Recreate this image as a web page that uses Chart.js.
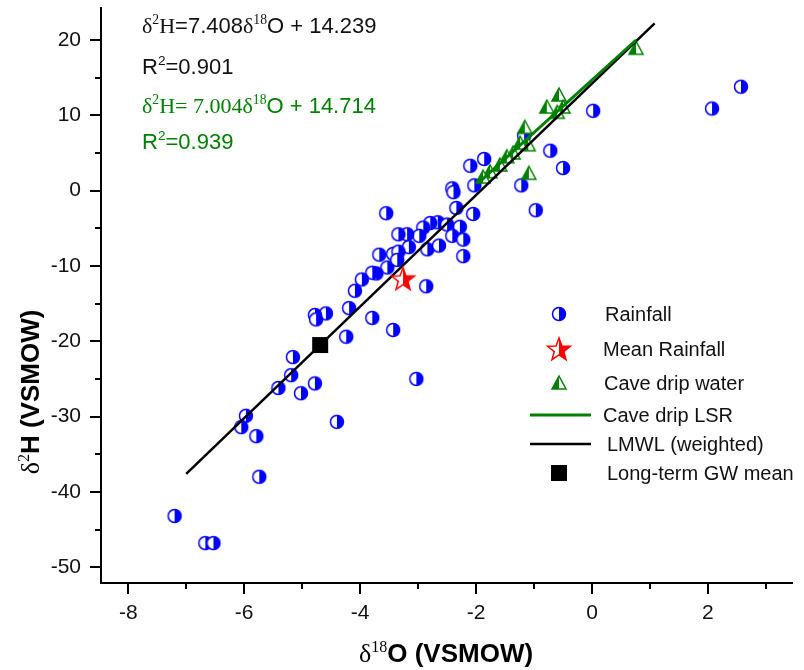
<!DOCTYPE html>
<html>
<head>
<meta charset="utf-8">
<script src="https://cdn.jsdelivr.net/npm/chart.js@4.4.0/dist/chart.umd.min.js"></script>
<style>
  body { margin: 0; background: #fff; }
  canvas { display: block; }
</style>
</head>
<body>
<canvas id="chartjs-0" width="804" height="670"></canvas>
<script>
/* Rainfall samples (d18O, d2H) */
var rainX = [2.57, 2.07, 0.02, -0.72, -0.5, -0.97, -1.17, -1.22, -1.86, -2.1, -2.03, -2.41, -2.39, -2.34, -2.05, -3.55,
  -2.28, -2.66, -2.79, -2.5, -2.91, -2.98, -3.19, -3.34, -2.41, -2.22, -3.16, -2.84, -2.64, -2.22, -3.67, -3.43,
  -3.34, -3.53, -3.36, -3.72, -3.79, -3.97, -4.09, -2.86, -4.19, -4.59, -4.78, -4.76, -3.79, -3.43, -4.24, -3.03,
  -4.78, -5.16, -5.19, -5.41, -5.02, -5.97, -6.05, -5.79, -4.4, -5.74, -7.2, -6.67, -6.53];
var rainY = [13.8, 10.9, 10.6, 5.3, 3.0, -2.6, 7.3, 0.7, 4.2, 3.3, 0.7, 0.3, -0.2, -2.3, -3.1, -3.0,
  -4.8, -4.2, -4.3, -4.5, -4.9, -6.0, -5.8, -5.8, -6.0, -6.5, -7.5, -7.8, -7.3, -8.7, -8.5, -8.4,
  -8.1, -10.2, -9.2, -11.0, -10.9, -11.8, -13.3, -12.7, -15.6, -16.3, -16.5, -17.1, -16.9, -18.5, -19.4, -25.0,
  -25.6, -22.1, -24.5, -26.2, -26.9, -29.9, -31.4, -32.6, -30.7, -38.0, -43.2, -46.8, -46.8];

/* Cave drip water */
var dripX = [0.76, -0.57, -0.78, -0.5, -0.6, -1.16, -1.1, -1.24, -1.09, -1.36, -1.47, -1.59, -1.76, -1.88];
var dripY = [18.9, 12.7, 11.1, 11.1, 10.4, 8.4, 6.1, 6.3, 2.3, 5.0, 4.5, 3.4, 2.5, 1.8];

/* single points */
var meanRainX = [-3.26], meanRainY = [-11.7];
var gwMeanX = [-4.69], gwMeanY = [-20.5];

/* regression line end points */
var lmwlX = [-7.0, 1.08], lmwlY = [-37.6, 22.2];
var lsrX = [-1.92, 0.76], lsrY = [1.3, 20.0];

var xTicks = [-8, -6, -4, -2, 0, 2];
var yTicks = [-50, -40, -30, -20, -10, 0, 10, 20];

var BLUE = "#0000ff", GREEN = "#008000", RED = "#ff0000";
var SANS = "'Liberation Sans', Arial, sans-serif";
var SERIF = "'Liberation Serif', 'Times New Roman', serif";

function pts(xs, ys) {
    var out = [];
    for (var i = 0; i < xs.length; i++) out.push({x: xs[i], y: ys[i]});
    return out;
}

/* marker images */
function halfCircle() {
    var c = document.createElement("canvas"); c.width = 18; c.height = 18;
    var g = c.getContext("2d");
    g.beginPath(); g.arc(9, 9, 6.5, 0, Math.PI * 2); g.fillStyle = "#fff"; g.fill();
    g.beginPath(); g.arc(9, 9, 6.5, -Math.PI / 2, Math.PI / 2); g.closePath(); g.fillStyle = BLUE; g.fill();
    g.beginPath(); g.arc(9, 9, 6.5, 0, Math.PI * 2); g.lineWidth = 1.5; g.strokeStyle = BLUE; g.stroke();
    return c;
}
function halfTriangle() {
    var c = document.createElement("canvas"); c.width = 18; c.height = 18;
    var g = c.getContext("2d");
    g.beginPath(); g.moveTo(9, 2); g.lineTo(2, 15); g.lineTo(16, 15); g.closePath();
    g.fillStyle = "#fff"; g.fill();
    g.beginPath(); g.moveTo(9, 2); g.lineTo(2, 15); g.lineTo(9, 15); g.closePath();
    g.fillStyle = GREEN; g.fill();
    g.beginPath(); g.moveTo(9, 2); g.lineTo(2, 15); g.lineTo(16, 15); g.closePath();
    g.lineWidth = 1.5; g.strokeStyle = GREEN; g.stroke();
    return c;
}
function starImg() {
    var c = document.createElement("canvas"); c.width = 28; c.height = 28;
    var g = c.getContext("2d");
    function path() {
        g.beginPath();
        for (var i = 0; i < 10; i++) {
            var r = i % 2 === 0 ? 12 : 5;
            var a = -Math.PI / 2 + i * Math.PI / 5;
            var px = 14 + r * Math.cos(a), py = 15 + r * Math.sin(a);
            if (i === 0) g.moveTo(px, py); else g.lineTo(px, py);
        }
        g.closePath();
    }
    path(); g.fillStyle = "#fff"; g.fill();
    g.save(); g.beginPath(); g.rect(14, 0, 14, 28); g.clip();
    path(); g.fillStyle = RED; g.fill(); g.restore();
    path(); g.lineWidth = 1.5; g.strokeStyle = RED; g.stroke();
    return c;
}
function squareImg() {
    var c = document.createElement("canvas"); c.width = 18; c.height = 18;
    var g = c.getContext("2d");
    g.fillStyle = "#000"; g.fillRect(1, 1, 16, 16);
    return c;
}
var imgCircle = halfCircle(), imgTri = halfTriangle(), imgStar = starImg(), imgSquare = squareImg();

/* text made of pieces with superscripts */
function richText(ctx, parts, x, y, size, color, bold) {
    ctx.fillStyle = color;
    ctx.textBaseline = "alphabetic";
    ctx.textAlign = "left";
    parts.forEach(function (p) {
        var s = p.sup ? size * 0.62 : size;
        var w = bold && !p.serif ? "bold " : "";
        ctx.font = w + s + "px " + (p.serif ? SERIF : SANS);
        ctx.fillText(p.t, x, p.sup ? y - size * 0.4 : y);
        x += ctx.measureText(p.t).width;
    });
}
function richWidth(ctx, parts, size, bold) {
    var w = 0;
    parts.forEach(function (p) {
        var s = p.sup ? size * 0.62 : size;
        ctx.font = (bold && !p.serif ? "bold " : "") + s + "px " + (p.serif ? SERIF : SANS);
        w += ctx.measureText(p.t).width;
    });
    return w;
}

var extras = {
    id: "extras",
    afterDraw: function (chart) {
        var ctx = chart.ctx, xs = chart.scales.x, ys = chart.scales.y;
        var area = chart.chartArea;
        ctx.save();
        /* tick marks, major and minor */
        ctx.strokeStyle = "#000"; ctx.lineWidth = 2;
        for (var v = -8; v <= 3; v++) {
            var px = Math.round(xs.getPixelForValue(v));
            var len = v % 2 === 0 ? 11 : 6;
            ctx.beginPath(); ctx.moveTo(px, area.bottom); ctx.lineTo(px, area.bottom + len); ctx.stroke();
        }
        for (var w = -50; w <= 20; w += 5) {
            var py = Math.round(ys.getPixelForValue(w));
            var l2 = w % 10 === 0 ? 11 : 6;
            ctx.beginPath(); ctx.moveTo(area.left, py); ctx.lineTo(area.left - l2, py); ctx.stroke();
        }

        /* equations */
        richText(ctx, [{t: "δ", serif: 1}, {t: "2", serif: 1, sup: 1}, {t: "H", serif: 1}, {t: "=7.408"},
            {t: "δ", serif: 1}, {t: "18", serif: 1, sup: 1}, {t: "O + 14.239"}], 142, 33, 22, "#111");
        richText(ctx, [{t: "R"}, {t: "2", sup: 1}, {t: "=0.901"}], 142, 74, 22, "#111");
        richText(ctx, [{t: "δ", serif: 1}, {t: "2", serif: 1, sup: 1}, {t: "H= 7.004δ", serif: 1},
            {t: "18", serif: 1, sup: 1}, {t: "O + 14.714"}], 142, 113, 22, GREEN);
        richText(ctx, [{t: "R"}, {t: "2", sup: 1}, {t: "=0.939"}], 142, 149, 22, GREEN);

        /* axis titles */
        var xt = [{t: "δ", serif: 1}, {t: "18", serif: 1, sup: 1}, {t: "O (VSMOW)"}];
        var xw = richWidth(ctx, xt, 26, true);
        richText(ctx, xt, 446 - xw / 2, 662, 26, "#000", true);
        var yt = [{t: "δ", serif: 1}, {t: "2", serif: 1, sup: 1}, {t: "H (VSMOW)"}];
        var yw = richWidth(ctx, yt, 26, true);
        ctx.save();
        ctx.translate(39, 392);
        ctx.rotate(-Math.PI / 2);
        richText(ctx, yt, -yw / 2, 0, 26, "#000", true);
        ctx.restore();

        /* legend */
        var rows = [
            {img: imgCircle, label: "Rainfall", y: 314, tx: 605},
            {img: imgStar, label: "Mean Rainfall", y: 349, tx: 603},
            {img: imgTri, label: "Cave drip water", y: 383, tx: 604},
            {line: GREEN, w: 3, label: "Cave drip LSR", y: 415, tx: 603},
            {line: "#000", w: 2.5, label: "LMWL (weighted)", y: 444, tx: 607},
            {img: imgSquare, label: "Long-term GW mean", y: 473, tx: 607}
        ];
        ctx.font = "20px " + SANS;
        ctx.textBaseline = "middle";
        rows.forEach(function (r) {
            if (r.img) {
                ctx.drawImage(r.img, 559 - r.img.width / 2, r.y - r.img.height / 2);
            } else {
                ctx.beginPath(); ctx.moveTo(530, r.y); ctx.lineTo(591, r.y);
                ctx.strokeStyle = r.line; ctx.lineWidth = r.w; ctx.stroke();
            }
            ctx.fillStyle = "#111";
            ctx.fillText(r.label, r.tx, r.y + 1);
        });
        ctx.restore();
    }
};

var ctx0 = document.getElementById("chartjs-0");
var myChart = new Chart(ctx0, {
    type: "scatter",
    data: {
        datasets: [{
            label: "Rainfall",
            data: pts(rainX, rainY),
            pointStyle: imgCircle,
            order: 6
        }, {
            label: "Cave drip water",
            data: pts(dripX, dripY),
            pointStyle: imgTri,
            order: 5
        }, {
            label: "LMWL (weighted)",
            data: pts(lmwlX, lmwlY),
            showLine: true,
            borderColor: "#000",
            borderWidth: 2.5,
            pointRadius: 0,
            order: 4
        }, {
            label: "Cave drip LSR",
            data: pts(lsrX, lsrY),
            showLine: true,
            borderColor: GREEN,
            borderWidth: 3,
            pointRadius: 0,
            order: 3
        }, {
            label: "Mean Rainfall",
            data: pts(meanRainX, meanRainY),
            pointStyle: imgStar,
            order: 2
        }, {
            label: "Long-term GW mean",
            data: pts(gwMeanX, gwMeanY),
            pointStyle: imgSquare,
            order: 1
        }]
    },
    options: {
        responsive: false,
        animation: false,
        events: [],
        layout: {padding: {top: 8, right: 12, left: 0, bottom: 0}},
        plugins: {legend: {display: false}, tooltip: {enabled: false}},
        scales: {
            x: {
                type: "linear",
                min: -8.47, max: 3.45,
                afterFit: function (s) { s.height = 87; s.paddingLeft = 0; s.paddingRight = 0; },
                afterBuildTicks: function (s) { s.ticks = xTicks.map(function (v) { return {value: v}; }); },
                grid: {drawOnChartArea: false, drawTicks: false},
                border: {display: true, color: "#000", width: 2},
                ticks: {padding: 18, color: "#111", font: {family: SANS, size: 21}, maxRotation: 0, autoSkip: false}
            },
            y: {
                type: "linear",
                min: -52.1, max: 24.25,
                afterFit: function (s) { s.width = 101; s.paddingTop = 0; s.paddingBottom = 0; },
                afterBuildTicks: function (s) { s.ticks = yTicks.map(function (v) { return {value: v}; }); },
                grid: {drawOnChartArea: false, drawTicks: false},
                border: {display: true, color: "#000", width: 2},
                ticks: {padding: 20, color: "#111", font: {family: SANS, size: 21}, autoSkip: false}
            }
        }
    },
    plugins: [extras]
});
</script>
</body>
</html>
